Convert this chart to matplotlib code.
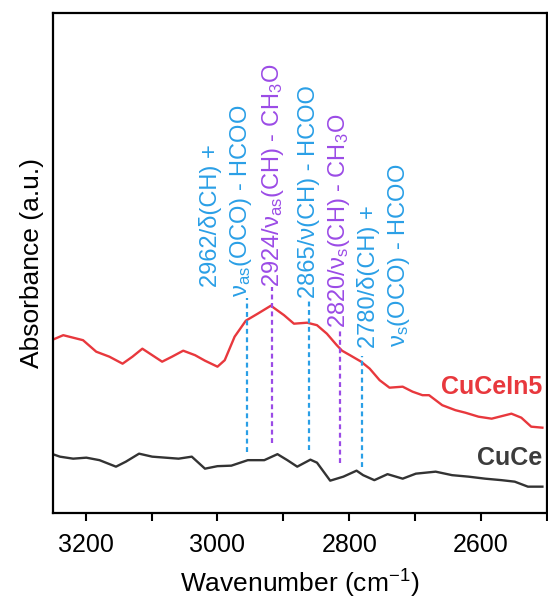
import numpy as np
import matplotlib
matplotlib.use("Agg")
import matplotlib.pyplot as plt
from matplotlib.ticker import MultipleLocator

plt.rcParams['font.family'] = ['Liberation Sans', 'DejaVu Sans']
plt.rcParams['mathtext.default'] = 'regular'

# CuCeIn5 spectrum (wavenumber, absorbance a.u.)
wn_in5 = [3250, 3234, 3219, 3204, 3184, 3164, 3144, 3129, 3114, 3099, 3084, 3069, 3052,
          3034, 3019, 3000, 2989, 2974, 2957, 2939, 2919, 2899, 2884, 2864, 2849, 2834,
          2819, 2811, 2799, 2782, 2769, 2754, 2739, 2719, 2704, 2689, 2679, 2659, 2639,
          2624, 2604, 2584, 2569, 2554, 2539, 2524, 2507]
ab_in5 = [0.347, 0.356, 0.351, 0.346, 0.323, 0.313, 0.299, 0.313, 0.329, 0.316, 0.303,
          0.313, 0.325, 0.316, 0.305, 0.293, 0.306, 0.353, 0.385, 0.399, 0.415, 0.396,
          0.379, 0.381, 0.376, 0.359, 0.336, 0.325, 0.316, 0.303, 0.289, 0.266, 0.251,
          0.253, 0.243, 0.236, 0.236, 0.216, 0.206, 0.201, 0.193, 0.189, 0.194, 0.199,
          0.191, 0.173, 0.171]

# CuCe spectrum
wn_cuce = [3250, 3239, 3219, 3199, 3179, 3154, 3139, 3119, 3099, 3079, 3059, 3039, 3019,
           3000, 2979, 2954, 2929, 2909, 2894, 2879, 2859, 2849, 2829, 2809, 2789, 2779,
           2762, 2742, 2719, 2699, 2669, 2644, 2619, 2594, 2569, 2549, 2529, 2507]
ab_cuce = [0.118, 0.113, 0.109, 0.111, 0.106, 0.093, 0.103, 0.119, 0.113, 0.111, 0.109,
           0.113, 0.089, 0.094, 0.095, 0.106, 0.106, 0.118, 0.106, 0.093, 0.107, 0.101,
           0.065, 0.073, 0.085, 0.076, 0.066, 0.078, 0.069, 0.079, 0.083, 0.076, 0.073,
           0.069, 0.066, 0.063, 0.053, 0.053]

# band markers: position, line bottom, line top, colour key
band_pos = [2955, 2917, 2861, 2814, 2780]
band_lo = [0.123, 0.140, 0.126, 0.100, 0.093]
band_hi = [0.430, 0.452, 0.426, 0.366, 0.314]
band_col = ['blue', 'purple', 'blue', 'purple', 'blue']

# assignment labels: x, bottom y, text, colour key
lab_x = [3011, 2964, 2916, 2861, 2816, 2771, 2724]
lab_y = [0.452, 0.432, 0.452, 0.430, 0.370, 0.330, 0.332]
lab_txt = ['2962/δ(CH) +',
           'ν$_{as}$(OCO) - HCOO',
           '2924/ν$_{as}$(CH) - CH$_{3}$O',
           '2865/ν(CH) - HCOO',
           '2820/ν$_{s}$(CH) - CH$_{3}$O',
           '2780/δ(CH) +',
           'ν$_{s}$(OCO) - HCOO']
lab_col = ['blue', 'blue', 'purple', 'blue', 'purple', 'blue', 'blue']

colors = {'blue': '#2a9fe6', 'purple': '#9b4be6'}

fig = plt.figure(figsize=(5.48, 6.03), dpi=100)
ax = fig.add_axes([0.0962, 0.149, 0.902, 0.829])

ax.plot(wn_in5, ab_in5, color='#e8383d', lw=1.7)
ax.plot(wn_cuce, ab_cuce, color='#333333', lw=1.7)

for p, lo, hi, c in zip(band_pos, band_lo, band_hi, band_col):
    ax.plot([p, p], [lo, hi], color=colors[c], lw=1.6, ls=(0, (2.2, 1.6)))

for x, y, t, c in zip(lab_x, lab_y, lab_txt, lab_col):
    ax.text(x, y, t, rotation=90, ha='center', va='bottom', fontsize=17,
            color=colors[c])

ax.text(2507, 0.253, 'CuCeIn5', ha='right', va='center', fontsize=18,
        fontweight='bold', color='#e8383d')
ax.text(2507, 0.110, 'CuCe', ha='right', va='center', fontsize=18,
        fontweight='bold', color='#3c3c3c')

ax.set_xlim(3250, 2500)
ax.set_ylim(0, 1)
ax.xaxis.set_major_locator(MultipleLocator(200))
ax.xaxis.set_minor_locator(MultipleLocator(100))
ax.tick_params(axis='x', which='both', direction='out', length=6, width=1.5,
               labelsize=18, pad=8)
ax.tick_params(axis='y', left=False, labelleft=False)
for s in ax.spines.values():
    s.set_linewidth(1.6)

ax.set_xlabel('Wavenumber (cm$^{-1}$)', fontsize=19, labelpad=8)
ax.set_ylabel('Absorbance (a.u.)', fontsize=19, labelpad=6)

fig.savefig('out.png', dpi=100)
